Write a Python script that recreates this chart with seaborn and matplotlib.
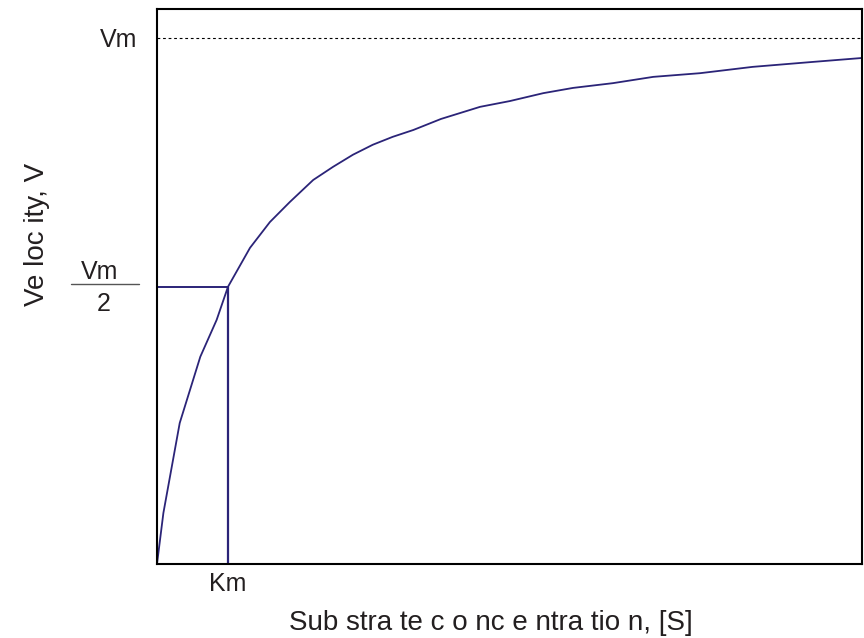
import matplotlib
matplotlib.use("Agg")
import matplotlib.pyplot as plt
import seaborn as sns
import pandas as pd

# Michaelis-Menten curve (x in units of Km, y in units of Vm)
substrate = [0, 0.09, 0.32, 0.61, 0.84, 1.0, 1.31, 1.59, 1.87, 2.2, 2.48, 2.76,
             3.04, 3.32, 3.61, 4.0, 4.55, 4.97, 5.44, 5.86, 6.42, 6.99, 7.65,
             8.39, 9.2, 9.94]
velocity = [0, 0.097, 0.268, 0.394, 0.464, 0.527, 0.601, 0.650, 0.688, 0.730,
            0.755, 0.778, 0.797, 0.812, 0.825, 0.846, 0.869, 0.880, 0.895,
            0.905, 0.914, 0.926, 0.933, 0.945, 0.954, 0.962]
vm = 1.0
half_vm = 0.527
km = 1.0

x_max = 9.93
y_max = 1.055

sns.set_theme(style="white")
plt.rcParams['font.family'] = ['Liberation Sans', 'DejaVu Sans']

curve_color = "#2b2478"
text_color = "#231f20"
df = pd.DataFrame({"S": substrate, "V": velocity})

fig = plt.figure(figsize=(8.64, 6.38), dpi=100)
ax = fig.add_axes([157 / 864, 1 - 564 / 638, 705 / 864, 555 / 638])

sns.lineplot(data=df, x="S", y="V", color=curve_color, linewidth=1.3, ax=ax)

# Km / Vm/2 guide lines
ax.plot([0, km], [half_vm, half_vm], color=curve_color, linewidth=1.4)
ax.plot([km, km], [0, half_vm], color=curve_color, linewidth=1.6)
# Vm asymptote
ax.axhline(vm, color="black", linewidth=0.8, linestyle=(0, (2.5, 2.5)))

ax.set_xlim(0, x_max)
ax.set_ylim(0, y_max)

for side in ax.spines.values():
    side.set_color("black")
    side.set_linewidth(1.5)

tick_fs = 18
label_fs = 20
ax.set_xticks([km])
ax.set_xticklabels(["Km"], fontsize=tick_fs, color=text_color)
ax.set_yticks([vm])
ax.set_yticklabels(["Vm"], fontsize=tick_fs, color=text_color)
ax.tick_params(axis="y", length=0, pad=14)
ax.tick_params(axis="x", length=0, pad=6)

# Vm/2 written as a fraction
trans = ax.get_yaxis_transform()
ax.text(-0.081, half_vm + 0.005, "Vm", transform=trans, fontsize=tick_fs,
        ha="center", va="bottom", color=text_color)
ax.text(-0.076, half_vm - 0.01, "2", transform=trans, fontsize=tick_fs,
        ha="center", va="top", color=text_color)
ax.plot([-0.122, -0.026], [half_vm + 0.006, half_vm + 0.006], transform=trans,
        color="#555555", linewidth=1.0, clip_on=False)

ax.set_xlabel("Sub stra te c o nc e ntra tio n, [S]", fontsize=label_fs,
              color=text_color, labelpad=10)
ax.set_ylabel("Ve loc ity, V", fontsize=label_fs, color=text_color, labelpad=36)
ax.xaxis.label.set_x(0.474)
ax.yaxis.label.set_y(0.593)

fig.savefig("out.png", dpi=100)
